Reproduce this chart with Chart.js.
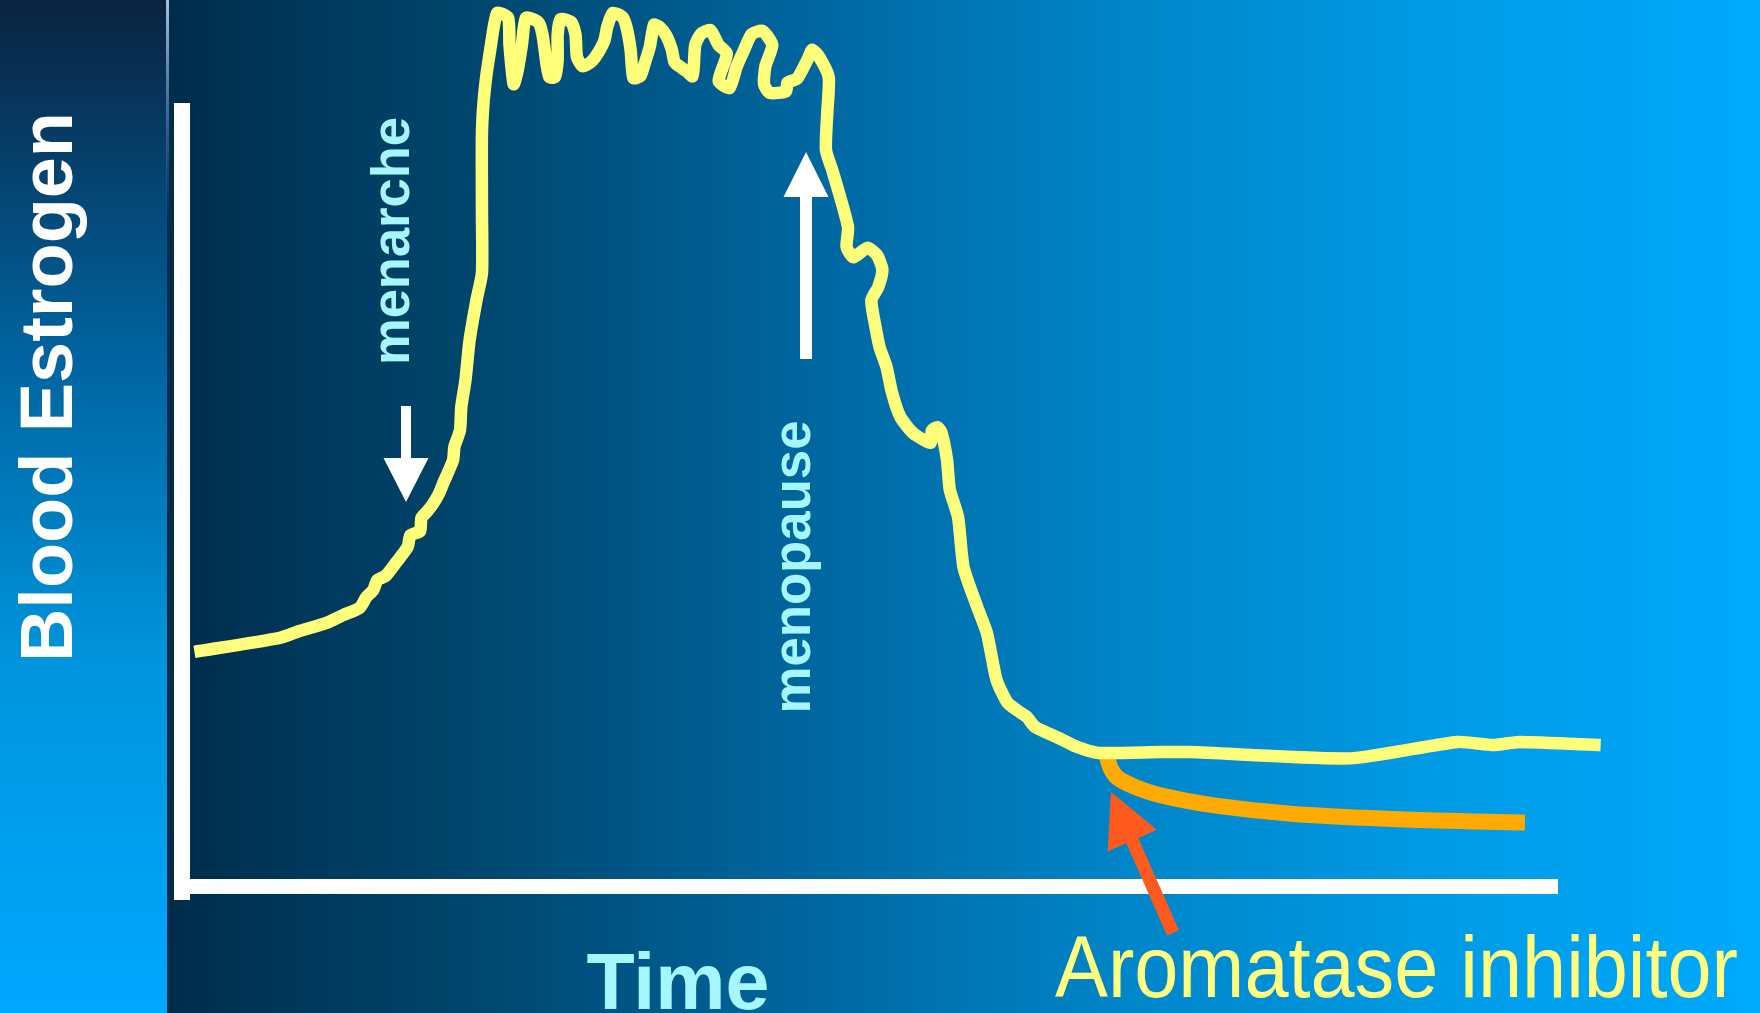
<!DOCTYPE html>
<html>
<head>
<meta charset="utf-8">
<title>Blood Estrogen</title>
<script src="https://cdn.jsdelivr.net/npm/chart.js@4.4.1/dist/chart.umd.min.js"></script>
<style>
  html, body { margin: 0; padding: 0; overflow: hidden; background: #00304f; }
  canvas { display: block; }
</style>
</head>
<body>
<canvas id="estrogenChart" width="1760" height="1013"></canvas>
<script>
// time runs 0..100 along the x axis, estrogen level 0..100 up the y axis
const naturalTime = [
  0.9, 7.1, 8.6, 10.5, 11.7, 12.9, 13.4, 13.9, 14.2, 14.8, 15.6, 16.4, 16.6, 17.3, 17.4, 17.8,
  18.2, 18.7, 19.0, 19.3, 19.7, 19.8, 20.2, 20.3, 20.6, 20.9, 21.4, 21.8, 21.8, 21.8, 22.0, 22.4,
  22.9, 23.7, 23.8, 24.1, 24.4, 24.7, 25.0, 25.9, 26.2, 26.5, 26.7, 27.1, 27.3, 27.3, 27.5, 28.3,
  28.6, 28.7, 29.1, 29.7, 30.2, 30.7, 30.9, 31.3, 32.0, 32.3, 32.6, 32.8, 33.3, 33.6, 34.0, 34.3,
  34.7, 35.2, 35.6, 35.8, 36.3, 36.7, 37.1, 37.2, 37.3, 37.7, 38.4, 39.0, 39.6, 39.0, 39.8, 40.3,
  40.8, 41.4, 42.2, 42.9, 42.4, 42.3, 42.7, 43.9, 44.0, 44.7, 45.5, 45.8, 46.3, 47.0,
  46.9, 46.8, 47.3, 48.4, 48.3, 48.8, 49.8, 50.5, 50.9, 50.6, 50.1, 50.4, 50.7, 51.2, 51.6, 52.2,
  53.1, 54.4, 54.5, 54.9, 55.2, 55.6, 55.8, 56.4, 56.8, 57.8, 58.5, 59.2, 60.0, 60.9, 61.4, 62.0,
  63.6, 65.0, 66.6, 71.1, 73.3, 84.9, 92.7, 95.3, 97.2, 103.1
];
const naturalLevel = [
  29.9, 31.7, 32.6, 33.6, 34.6, 35.5, 36.9, 37.8, 39.1, 39.6, 41.4, 43.3, 44.8, 45.3, 47.0, 47.8,
  48.7, 50.2, 51.5, 52.7, 54.4, 56.1, 58.2, 61.2, 64.6, 69.7, 74.8, 78.3, 86.0, 96.3, 101.7, 106.8,
  111.5, 110.9, 107.4, 102.4, 104.2, 107.4, 110.9, 110.3, 108.7, 104.9, 103.3, 103.3, 105.5, 108.7, 110.7, 110.3,
  108.7, 105.9, 104.7, 105.2, 106.3, 108.0, 109.7, 111.5, 111.0, 109.7, 106.8, 103.2, 103.4, 104.9, 107.2, 110.0,
  109.7, 108.6, 106.8, 105.2, 104.5, 104.0, 103.4, 104.9, 107.4, 108.8, 109.3, 107.4, 106.3, 102.8, 101.9, 104.6,
  106.6, 108.8, 109.2, 107.4, 104.7, 102.4, 101.3, 101.5, 102.6, 103.1, 105.7, 106.8, 105.9, 103.3,
  98.9, 94.0, 91.2, 84.2, 81.6, 80.3, 81.5, 80.6, 78.7, 76.5, 74.8, 71.4, 68.8, 66.3, 63.0, 59.9,
  57.9, 56.6, 58.2, 58.6, 57.9, 54.4, 50.6, 47.1, 40.7, 35.6, 32.3, 26.3, 23.4, 22.2, 21.6, 20.3,
  19.0, 17.8, 17.0, 17.1, 17.1, 16.3, 18.4, 18.0, 18.4, 18.0
];
const inhibitorTime = [67.2, 67.5, 68.0, 69.2, 71.1, 75.0, 80.8, 88.9, 97.6];
const inhibitorLevel = [16.6, 15.0, 13.8, 12.7, 11.6, 10.3, 9.2, 8.5, 8.1];

// annotation arrows, in the same time / level units
const noteArrows = [
  { from: [16.28, 61.3], to: [16.28, 49.04], shaft: 10, head: 45, headLen: 44, color: '#ffffff' },
  { from: [45.35, 67.31], to: [45.35, 93.74], shaft: 12, head: 45, headLen: 45, color: '#ffffff' },
  { from: [72.02, -6.0], to: [67.51, 12.0], shaft: 13, head: 54, headLen: 53, color: '#ff5a1e' }
];

const toPoints = (xs, ys) => xs.map((x, i) => ({ x: x, y: ys[i] }));

const drawArrow = (ctx, x1, y1, x2, y2, shaft, head, headLen) => {
  const len = Math.hypot(x2 - x1, y2 - y1);
  const ux = (x2 - x1) / len, uy = (y2 - y1) / len;
  const nx = -uy, ny = ux;
  const bx = x2 - ux * headLen, by = y2 - uy * headLen;
  ctx.beginPath();
  ctx.moveTo(x1 + nx * shaft / 2, y1 + ny * shaft / 2);
  ctx.lineTo(bx + nx * shaft / 2, by + ny * shaft / 2);
  ctx.lineTo(bx + nx * head / 2, by + ny * head / 2);
  ctx.lineTo(x2, y2);
  ctx.lineTo(bx - nx * head / 2, by - ny * head / 2);
  ctx.lineTo(bx - nx * shaft / 2, by - ny * shaft / 2);
  ctx.lineTo(x1 - nx * shaft / 2, y1 - ny * shaft / 2);
  ctx.closePath();
  ctx.fill();
};

const drawText = (ctx, text, x, y, font, color, align, maxWidth, vertical) => {
  ctx.save();
  ctx.translate(x, y);
  if (vertical) ctx.rotate(-Math.PI / 2);
  ctx.font = font;
  ctx.fillStyle = color;
  ctx.textAlign = align;
  ctx.textBaseline = 'alphabetic';
  ctx.fillText(text, 0, 0, maxWidth);
  ctx.restore();
};

// slide background: dark-to-bright blue, plus the white axis bars
const backdrop = {
  id: 'backdrop',
  beforeDraw(chart) {
    const { ctx, width, height } = chart;
    ctx.save();
    const side = ctx.createLinearGradient(0, 0, 0, height);
    side.addColorStop(0, '#0a2341');
    side.addColorStop(0.35, '#00639f');
    side.addColorStop(0.65, '#0094dc');
    side.addColorStop(1, '#00a8ff');
    ctx.fillStyle = side;
    ctx.fillRect(0, 0, 167, height);

    const main = ctx.createLinearGradient(167, 0, width, 0);
    main.addColorStop(0, '#002c4b');
    main.addColorStop(0.2, '#00476f');
    main.addColorStop(0.4, '#00669f');
    main.addColorStop(0.6, '#0085c8');
    main.addColorStop(0.8, '#009be6');
    main.addColorStop(1, '#00a9fd');
    ctx.fillStyle = main;
    ctx.fillRect(167, 0, width - 167, height);

    const edge = ctx.createLinearGradient(0, 0, 0, 230);
    edge.addColorStop(0, 'rgba(190,210,230,0.9)');
    edge.addColorStop(1, 'rgba(60,140,220,0)');
    ctx.fillStyle = edge;
    ctx.fillRect(166, 0, 3, 230);
    ctx.restore();
  },
  beforeDatasetsDraw(chart) {
    const { ctx, chartArea, scales } = chart;
    const x0 = scales.x.getPixelForValue(0);
    const y0 = scales.y.getPixelForValue(0);
    ctx.save();
    ctx.fillStyle = '#ffffff';
    ctx.fillRect(x0 - 8, chartArea.top, 16, y0 - chartArea.top + 14);
    ctx.fillRect(x0 - 8, y0 - 7, chartArea.right - x0 + 8, 15);
    ctx.restore();
  },
  afterDatasetsDraw(chart) {
    const { ctx, scales } = chart;
    ctx.save();
    noteArrows.forEach(a => {
      ctx.fillStyle = a.color;
      drawArrow(ctx,
        scales.x.getPixelForValue(a.from[0]), scales.y.getPixelForValue(a.from[1]),
        scales.x.getPixelForValue(a.to[0]), scales.y.getPixelForValue(a.to[1]),
        a.shaft, a.head, a.headLen);
    });
    ctx.restore();

    const face = '"Liberation Sans", Arial, sans-serif';
    drawText(ctx, 'Blood Estrogen', 72, 387, 'bold 74px ' + face, '#ffffff', 'center', 550, true);
    drawText(ctx, 'menarche', 409, 241, 'bold 53px ' + face, '#a5f7ff', 'center', 248, true);
    drawText(ctx, 'menopause', 810, 567, 'bold 53px ' + face, '#a5f7ff', 'center', 293, true);
    drawText(ctx, 'Time', 678, 1009, 'bold 79px ' + face, '#a5f7ff', 'center', 184, false);
    drawText(ctx, 'Aromatase inhibitor', 1055, 997, '87px ' + face, '#ffff80', 'left', 683, false);
  }
};

new Chart(document.getElementById('estrogenChart').getContext('2d'), {
  type: 'scatter',
  data: {
    datasets: [
      {
        label: 'Blood estrogen',
        data: toPoints(naturalTime, naturalLevel),
        showLine: true,
        borderColor: '#ffff7a',
        borderWidth: 12.5,
        borderJoinStyle: 'miter',
        pointRadius: 0,
        tension: 0.2,
        capBezierPoints: false,
        clip: false
      },
      {
        label: 'With aromatase inhibitor',
        data: toPoints(inhibitorTime, inhibitorLevel),
        showLine: true,
        borderColor: '#ffaa00',
        borderWidth: 16,
        pointRadius: 0,
        tension: 0.3,
        capBezierPoints: false,
        clip: false
      }
    ]
  },
  options: {
    responsive: false,
    animation: false,
    events: [],
    layout: { padding: { left: 182, top: 103, right: 202, bottom: 127 } },
    scales: {
      x: { type: 'linear', min: 0, max: 100, display: false },
      y: { type: 'linear', min: 0, max: 100, display: false }
    },
    plugins: {
      legend: { display: false },
      tooltip: { enabled: false }
    }
  },
  plugins: [backdrop]
});
</script>
</body>
</html>
